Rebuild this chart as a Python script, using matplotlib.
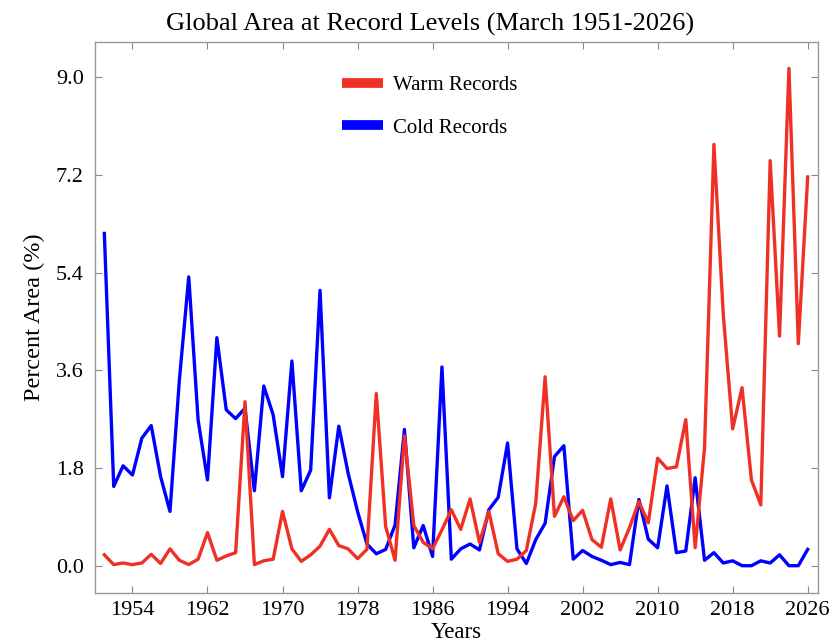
import numpy as np
import matplotlib
matplotlib.use("Agg")
import matplotlib.pyplot as plt

# March record-level area, percent of globe, 1951-2026
years = np.arange(1951, 2027)

warm = [0.20, 0.02, 0.05, 0.02, 0.05, 0.21, 0.04, 0.31, 0.10, 0.02,
        0.12, 0.61, 0.10, 0.18, 0.24, 3.02, 0.02, 0.09, 0.12, 1.00,
        0.31, 0.08, 0.20, 0.36, 0.67, 0.37, 0.31, 0.13, 0.30, 3.17,
        0.72, 0.10, 2.39, 0.74, 0.43, 0.31, 0.66, 1.03, 0.67, 1.23,
        0.43, 1.00, 0.22, 0.08, 0.12, 0.28, 1.15, 3.48, 0.91, 1.27,
        0.83, 1.02, 0.48, 0.34, 1.23, 0.29, 0.70, 1.18, 0.79, 1.98,
        1.79, 1.82, 2.69, 0.33, 2.17, 7.76, 4.62, 2.52, 3.28, 1.58,
        1.12, 7.46, 4.23, 9.16, 4.09, 7.16]

cold = [6.12, 1.46, 1.84, 1.67, 2.35, 2.58, 1.64, 1.00, 3.42, 5.32,
        2.68, 1.58, 4.20, 2.87, 2.71, 2.90, 1.38, 3.31, 2.78, 1.64,
        3.77, 1.38, 1.76, 5.07, 1.25, 2.57, 1.70, 1.00, 0.40, 0.22,
        0.30, 0.75, 2.51, 0.33, 0.74, 0.17, 3.66, 0.12, 0.31, 0.40,
        0.29, 1.03, 1.26, 2.26, 0.31, 0.04, 0.48, 0.78, 2.01, 2.21,
        0.12, 0.28, 0.17, 0.10, 0.02, 0.06, 0.02, 1.22, 0.49, 0.33,
        1.47, 0.24, 0.27, 1.62, 0.10, 0.24, 0.05, 0.09, 0.00, 0.00,
        0.09, 0.05, 0.20, 0.00, 0.00, 0.30]

xticks = list(range(1954, 2027, 8))
yticks = [0.0, 1.8, 3.6, 5.4, 7.2, 9.0]

plt.rcParams['font.family'] = ['Liberation Serif', 'DejaVu Serif']

fig = plt.figure(figsize=(8.33, 6.43), dpi=100)
ax = fig.add_axes([0.114, 0.078, 0.868, 0.857])

ax.plot(years, cold, color='#0000FF', lw=2.4, label='Cold Records', zorder=2)
ax.plot(years, warm, color='#EE3124', lw=2.4, label='Warm Records', zorder=3)

ax.set_xlim(1950, 2027.1)
ax.set_ylim(-0.5, 9.65)
ax.set_xticks(xticks)
ax.set_yticks(yticks)
ax.set_yticklabels(['%.1f' % v for v in yticks])
ax.tick_params(direction='in', top=True, right=True, length=5, width=0.8,
               color='#888888', labelsize=16, pad=8)
ax.tick_params(axis='x', pad=6)

for sp in ax.spines.values():
    sp.set_color('#999999')
    sp.set_linewidth(1.0)

ax.set_title('Global Area at Record Levels (March 1951-2026)', fontsize=19,
             x=0.463, pad=8)
ax.set_ylabel('Percent Area (%)', fontsize=17.5, labelpad=8)
ax.set_xlabel('Years', fontsize=16.5, labelpad=1)

h, l = ax.get_legend_handles_labels()
leg = ax.legend(h[::-1], l[::-1], loc='upper left', bbox_to_anchor=(0.316, 0.9725),
                frameon=False, fontsize=15, handlelength=1.95, labelspacing=1.1,
                handletextpad=0.5)
for line in leg.get_lines():
    line.set_linewidth(7)
    line.set_solid_capstyle('butt')

fig.savefig('out.png', dpi=100)
